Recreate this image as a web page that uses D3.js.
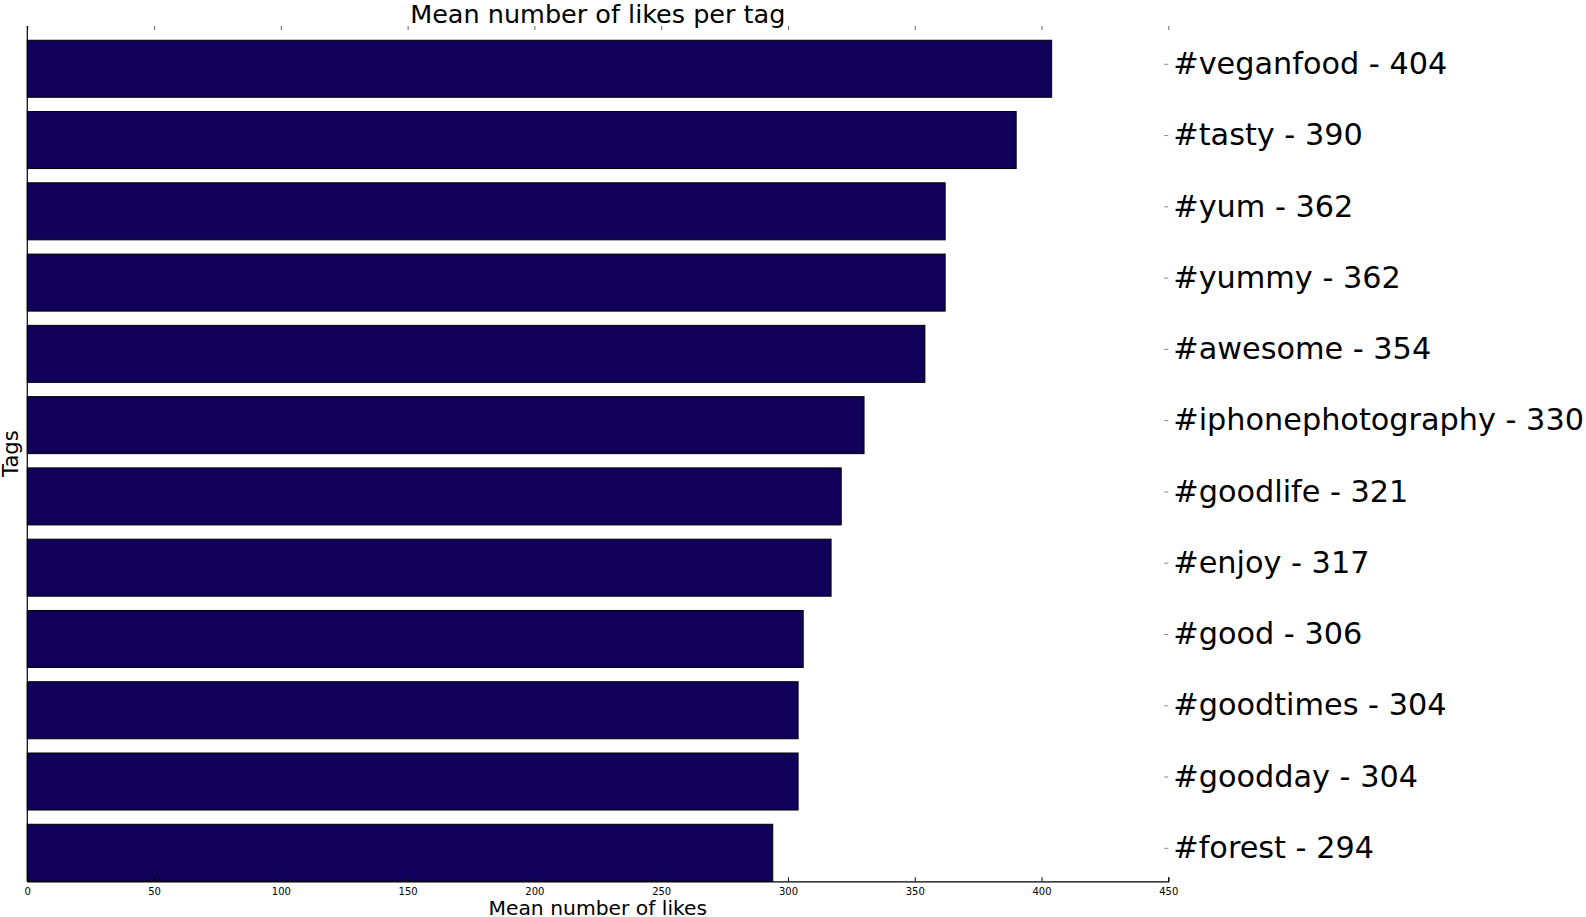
<!DOCTYPE html>
<html>
<head>
<meta charset="utf-8">
<script src="https://cdn.jsdelivr.net/npm/d3@7/dist/d3.min.js"></script>
<style>
  html, body { margin: 0; padding: 0; background: #fff; }
  svg { display: block; font-family: "DejaVu Sans", sans-serif; }
</style>
</head>
<body>
<svg id="chart" width="1586" height="917"></svg>
<script>
// Data (bottom to top order as drawn)
const tags = ["#forest", "#goodday", "#goodtimes", "#good", "#enjoy", "#goodlife",
              "#iphonephotography", "#awesome", "#yummy", "#yum", "#tasty", "#veganfood"];
const meanLikes = [294, 304, 304, 306, 317, 321, 330, 354, 362, 362, 390, 404];
const xTicks = [0, 50, 100, 150, 200, 250, 300, 350, 400, 450];
const titleText = "Mean number of likes per tag";
const xLabelText = "Mean number of likes";
const yLabelText = "Tags";

(function () {
const svg = d3.select("#chart");
const pLeft = 27.3, pRight = 1168.3, pTop = 26, pBottom = 881.3;

const x = d3.scaleLinear().domain([0, 450]).range([pLeft, pRight]);
const y = d3.scaleLinear().domain([0, tags.length]).range([pBottom, pTop]);
const barH = 0.8;
const labelOffset = 0.47;

// Bars
svg.append("g").selectAll("rect")
  .data(meanLikes)
  .join("rect")
  .attr("x", x(0))
  .attr("y", (d, i) => y(i + barH))
  .attr("width", d => x(d) - x(0))
  .attr("height", (d, i) => y(i) - y(i + barH))
  .attr("fill", "#10005a")
  .attr("stroke", "#000")
  .attr("stroke-width", 1);

// Bottom axis (ticks inward)
const xAxisB = d3.axisBottom(x).tickValues(xTicks).tickSize(-4).tickPadding(7)
  .tickFormat(d3.format("d"));
const gB = svg.append("g").attr("transform", `translate(0,${pBottom})`).call(xAxisB);
gB.select(".domain").attr("stroke", "#000").attr("stroke-width", 1.2);
gB.selectAll(".tick line").attr("stroke", "#000");
gB.selectAll(".tick text").attr("font-size", 10).attr("fill", "#000")
  .attr("font-family", "DejaVu Sans");

// Top axis ticks only (no spine)
const xAxisT = d3.axisTop(x).tickValues(xTicks).tickSize(-4).tickFormat("");
const gT = svg.append("g").attr("transform", `translate(0,${pTop})`).call(xAxisT);
gT.select(".domain").remove();
gT.selectAll(".tick line").attr("stroke", "#666");

// Left spine
svg.append("line")
  .attr("x1", pLeft).attr("x2", pLeft).attr("y1", pTop).attr("y2", pBottom)
  .attr("stroke", "#000").attr("stroke-width", 1.2);

// Right axis with tag labels (no spine, inward ticks)
const yAxisR = d3.axisRight(y)
  .tickValues(tags.map((t, i) => i + labelOffset))
  .tickSize(-4).tickPadding(5)
  .tickFormat((d, i) => `${tags[i]} - ${meanLikes[i]}`);
const gR = svg.append("g").attr("transform", `translate(${pRight},0)`).call(yAxisR);
gR.select(".domain").remove();
gR.selectAll(".tick line").attr("stroke", "#888");
gR.selectAll(".tick text").attr("font-size", 30.3).attr("fill", "#000")
  .attr("font-family", "DejaVu Sans").attr("dy", "0.32em");

// Title
svg.append("text")
  .attr("x", (pLeft + pRight) / 2).attr("y", 22.5)
  .attr("text-anchor", "middle").attr("font-size", 25.5).attr("fill", "#000")
  .text(titleText);

// X label
svg.append("text")
  .attr("x", (pLeft + pRight) / 2).attr("y", 914.5)
  .attr("text-anchor", "middle").attr("font-size", 20.3).attr("fill", "#000")
  .text(xLabelText);

// Y label
svg.append("text")
  .attr("transform", `translate(17.5,${(pTop + pBottom) / 2}) rotate(-90)`)
  .attr("text-anchor", "middle").attr("font-size", 21).attr("fill", "#000")
  .text(yLabelText);
})();
</script>
</body>
</html>
